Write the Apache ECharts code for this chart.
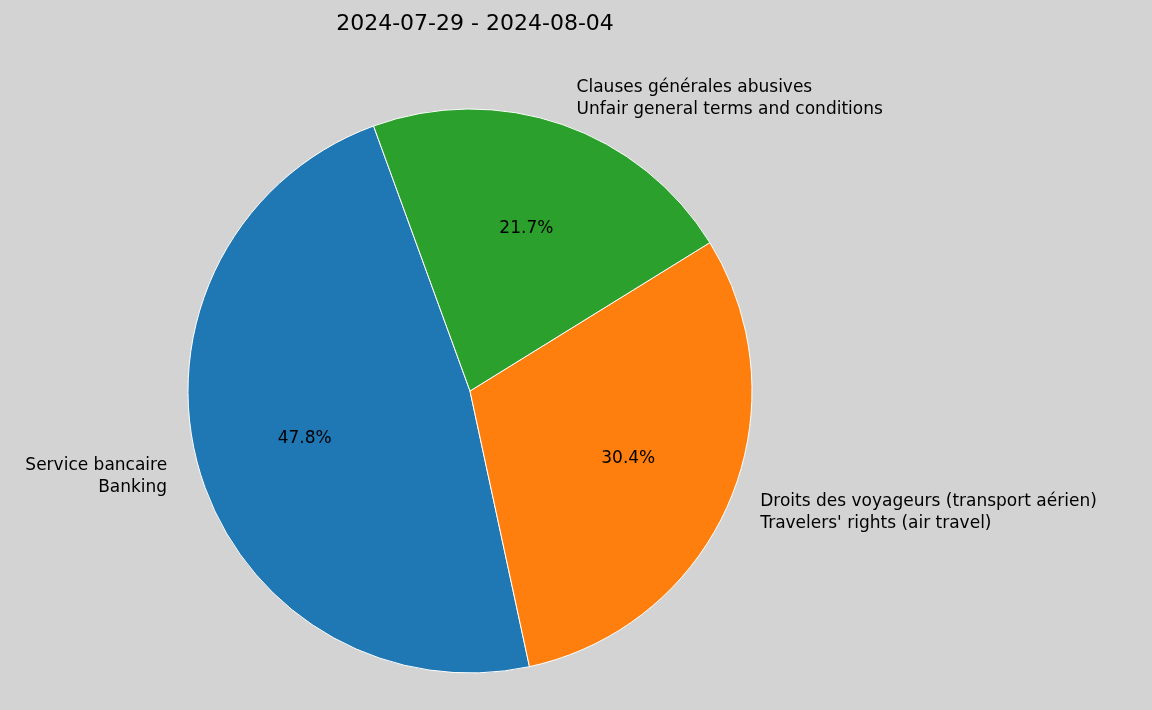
<!DOCTYPE html>
<html>
<head>
<meta charset="utf-8">
<script src="https://cdn.jsdelivr.net/npm/echarts@6/dist/echarts.min.js"></script>
<style>html,body{margin:0;padding:0;background:#d3d3d3;}#chart{width:1152px;height:710px;}</style>
</head>
<body>
<div id="chart"></div>
<script>
var title = '2024-07-29 - 2024-08-04';
var categories = [
    'Service bancaire\nBanking',
    'Droits des voyageurs (transport aérien)\nTravelers\' rights (air travel)',
    'Clauses générales abusives\nUnfair general terms and conditions'
];
var counts = [11, 7, 5];
var colors = ['#1f77b4', '#ff7f0e', '#2ca02c'];

var chart = echarts.init(document.getElementById('chart'));
var slices = [];
var ghost = [];
for (var i = 0; i < categories.length; i++) {
    slices.push({ value: counts[i], name: categories[i], itemStyle: { color: colors[i] } });
    ghost.push({ value: counts[i], name: categories[i] });
}
var font = 'DejaVu Sans';
var option = {
    backgroundColor: '#d3d3d3',
    title: {
        text: title,
        left: 470,
        top: 8,
        textAlign: 'center',
        textStyle: { fontFamily: font, fontSize: 22, fontWeight: 'normal', color: '#000' }
    },
    series: [
        {
            name: 'main',
            type: 'pie',
            center: [470, 391],
            radius: [0, 282],
            startAngle: 110,
            clockwise: false,
            avoidLabelOverlap: false,
            silent: true,
            itemStyle: { borderColor: '#fff', borderWidth: 1 },
            label: {
                show: true,
                position: 'outside',
                formatter: '{b}',
                fontFamily: font,
                fontSize: 17,
                lineHeight: 22,
                color: '#000'
            },
            labelLine: { show: false, length: 28, length2: 0 },
            data: slices
        },
        {
            name: 'pct',
            type: 'pie',
            center: [470, 391],
            radius: [0, 338],
            startAngle: 110,
            clockwise: false,
            silent: true,
            itemStyle: { color: 'rgba(0,0,0,0)' },
            label: {
                show: true,
                position: 'inside',
                formatter: function (p) { return p.percent.toFixed(1) + '%'; },
                fontFamily: font,
                fontSize: 17,
                color: '#000'
            },
            labelLine: { show: false },
            data: ghost
        }
    ]
};
chart.setOption(option);
window.onresize = chart.resize;
</script>
</body>
</html>
